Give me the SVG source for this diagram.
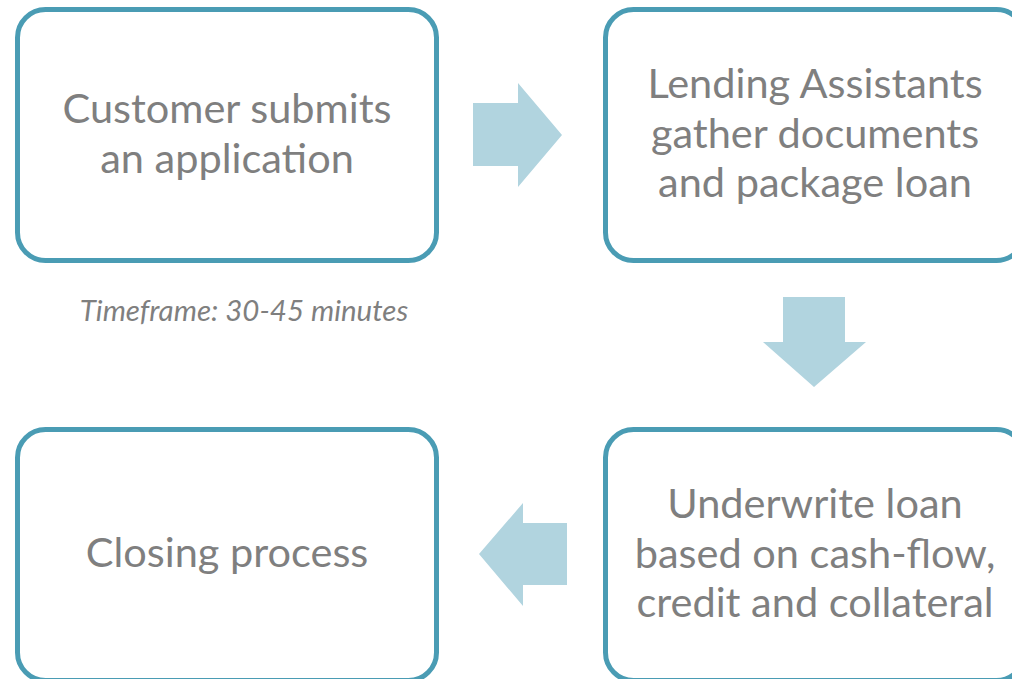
<svg xmlns="http://www.w3.org/2000/svg" width="1012" height="679" viewBox="0 0 1012 679">
  <style>
    .box { fill: #ffffff; stroke: #4a9cb4; stroke-width: 5; }
    .label { font-family: Lato, "Open Sans", "Liberation Sans", sans-serif; font-size: 41.5px; fill: #7f7f7f; text-anchor: middle; }
    .note { font-family: Lato, "Open Sans", "Liberation Sans", sans-serif; font-size: 29.5px; font-style: italic; fill: #7f7f7f; text-anchor: middle; }
    .arrow { fill: #b1d4df; }
  </style>
  <rect width="1012" height="679" fill="#ffffff"/>

  <g id="step-apply">
    <rect class="box" x="17.5" y="9.5" width="419" height="251" rx="28" ry="28"/>
    <text class="label" x="227" y="123">Customer submits</text>
    <text class="label" x="227" y="173">an application</text>
  </g>

  <g id="step-gather">
    <rect class="box" x="605.5" y="9.5" width="419" height="251" rx="28" ry="28"/>
    <text class="label" x="815" y="98">Lending Assistants</text>
    <text class="label" x="815" y="148">gather documents</text>
    <text class="label" x="815" y="197">and package loan</text>
  </g>

  <g id="step-underwrite">
    <rect class="box" x="605.5" y="429.5" width="419" height="251" rx="28" ry="28"/>
    <text class="label" x="815" y="518">Underwrite loan</text>
    <text class="label" x="815" y="568">based on cash-flow,</text>
    <text class="label" x="815" y="617">credit and collateral</text>
  </g>

  <g id="step-closing">
    <rect class="box" x="17.5" y="429.5" width="419" height="251" rx="28" ry="28"/>
    <text class="label" x="227" y="567">Closing process</text>
  </g>

  <g id="timeframe">
    <text class="note" x="244" y="321">Timeframe: 30-45 minutes</text>
  </g>

  <g id="connectors">
    <polygon class="arrow" points="473,103 518,103 518,83 562,135 518,187 518,166 473,166"/>
    <polygon class="arrow" points="783,297 845,297 845,342 866,342 814,387 763,342 783,342"/>
    <polygon class="arrow" points="567,523 523,523 523,503 479,554 523,606 523,585 567,585"/>
  </g>
</svg>
